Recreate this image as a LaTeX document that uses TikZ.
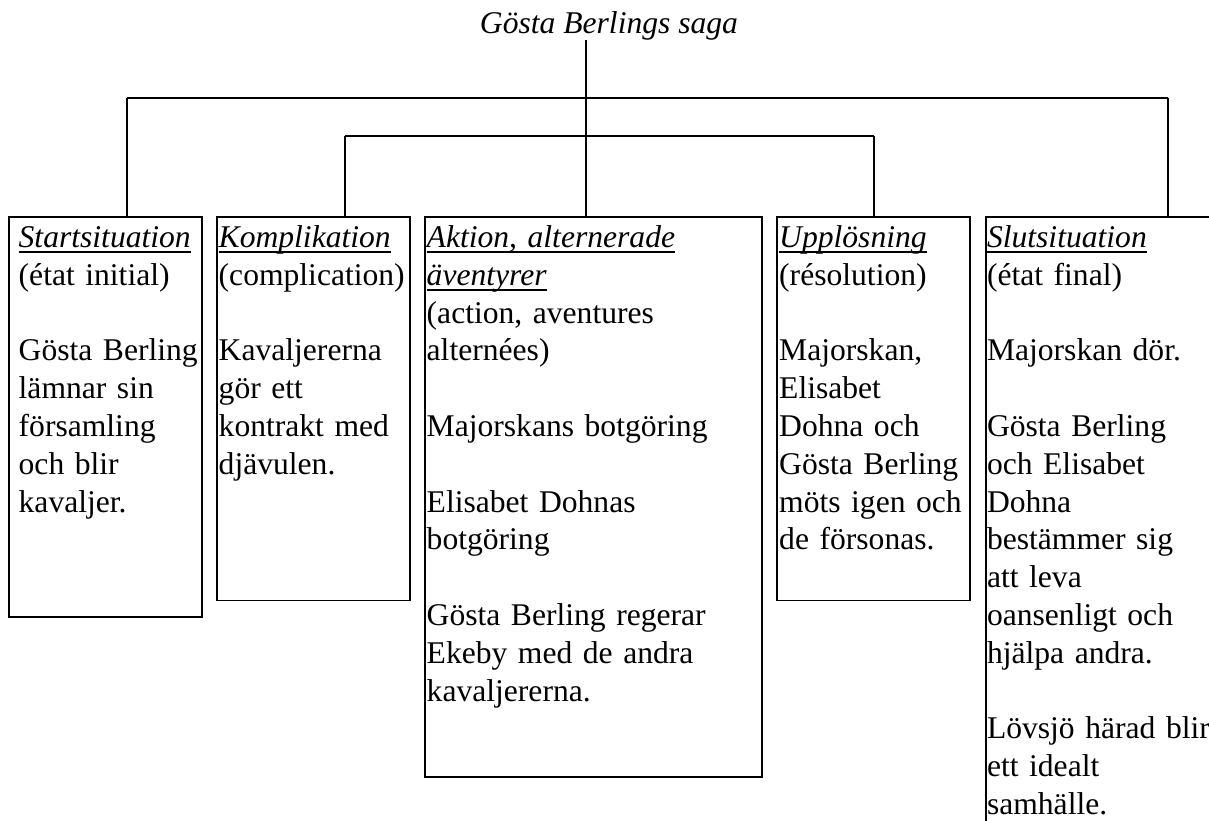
\documentclass[tikz,border=0pt]{standalone}
\usepackage{fontspec}
\setmainfont{Liberation Serif}
\newsavebox\ulbox
\newcommand{\ulh}[1]{\leavevmode\sbox\ulbox{\itshape #1}\rlap{\rule[-5.3pt]{\wd\ulbox}{1.9pt}}\usebox\ulbox}
\tikzset{
  boxst/.style={draw, line width=1.8pt, rectangle, inner sep=0pt, outer sep=0pt, anchor=north west},
  txt/.style={anchor=base west, inner sep=0pt, text width=340pt, align=left,
    font=\fontsize{31.6}{37.8}\selectfont},
  conn/.style={line width=1.8pt}
}
\begin{document}
\begin{tikzpicture}[x=1pt,y=-1pt]
\useasboundingbox (0,0) rectangle (1209,820);
\clip (0,0) rectangle (1209,820);
\fill[white] (0,0) rectangle (1209,820);

\node[anchor=base, inner sep=0pt, font=\fontsize{31.6}{37.8}\selectfont\itshape] (title) at (609,33.3) {Gösta Berlings saga};

\node[boxst, minimum width=192.7pt, minimum height=400pt] (b1) at (9,216.7) {};
\node[boxst, minimum width=192.4pt, minimum height=383.8pt] (b2) at (217.3,216.7) {};
\node[boxst, minimum width=336.4pt, minimum height=560pt] (b3) at (425.3,216.7) {};
\node[boxst, minimum width=193pt, minimum height=383.8pt] (b4) at (777.3,216.7) {};
\node[boxst, minimum width=300pt, minimum height=700pt] (b5) at (985.7,216.7) {};

\node[txt] (t1) at (18.5,247.5) {\ulh{Startsituation}\\(état initial)\\[37.8pt]Gösta Berling\\lämnar sin\\församling\\och blir\\kavaljer.};
\node[txt] (t2) at (218.5,247.5) {\ulh{Komplikation}\\(complication)\\[37.8pt]Kavaljererna\\gör ett\\kontrakt med\\djävulen.};
\node[txt] (t3) at (426.5,247.5) {\ulh{Aktion, alternerade}\\\ulh{äventyrer}\\(action, aventures\\alternées)\\[37.8pt]Majorskans botgöring\\[37.8pt]Elisabet Dohnas\\botgöring\\[37.8pt]Gösta Berling regerar\\Ekeby med de andra\\kavaljererna.};
\node[txt] (t4) at (779,247.5) {\ulh{Upplösning}\\(résolution)\\[37.8pt]Majorskan,\\Elisabet\\Dohna och\\Gösta Berling\\möts igen och\\de försonas.};
\node[txt] (t5) at (986.8,247.5) {\ulh{Slutsituation}\\(état final)\\[37.8pt]Majorskan dör.\\[37.8pt]Gösta Berling\\och Elisabet\\Dohna\\bestämmer sig\\att leva\\oansenligt och\\hjälpa andra.\\[37.8pt]Lövsjö härad blir\\ett idealt\\samhälle.};

\coordinate (m) at (585.7,40);
\coordinate (jL) at (127,97.7);
\coordinate (jR) at (1168,97.7);
\coordinate (kL) at (345,136);
\coordinate (kR) at (874,136);

\draw[conn] (m) -- (m |- b3.north);
\draw[conn] (jL) -- (jR);
\draw[conn] (jL) -- (jL |- b1.north);
\draw[conn] (jR) -- (jR |- b5.north);
\draw[conn] (kL) -- (kR);
\draw[conn] (kL) -- (kL |- b2.north);
\draw[conn] (kR) -- (kR |- b4.north);
\end{tikzpicture}
\end{document}
